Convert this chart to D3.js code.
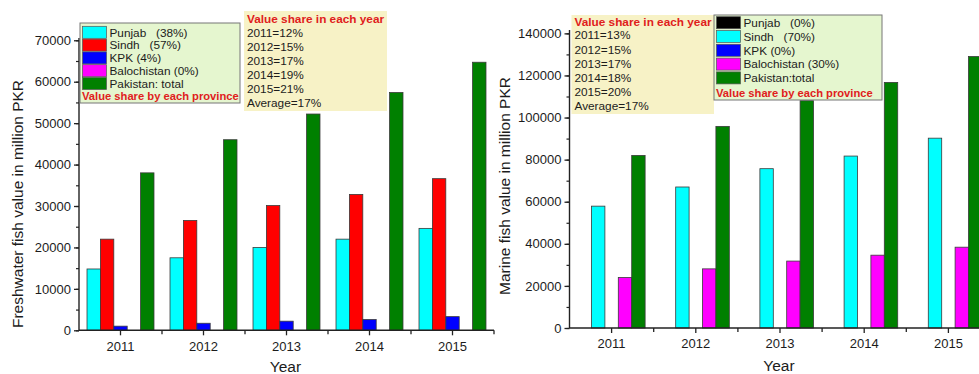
<!DOCTYPE html>
<html>
<head>
<meta charset="utf-8">
<script src="https://cdn.jsdelivr.net/npm/d3@7"></script>
<style>
  html, body { margin: 0; padding: 0; background: #fff; }
  svg { display: block; font-family: "Liberation Sans", Arial, sans-serif; }
  text { white-space: pre; }
</style>
</head>
<body>
<svg id="chart" width="979" height="374"></svg>
<script>
// Years on the x axis
const years = ["2011", "2012", "2013", "2014", "2015"];

// Freshwater fish value (million PKR)
const freshPunjab      = [14800, 17500, 20000, 22000, 24600];
const freshSindh       = [22000, 26500, 30100, 32800, 36600];
const freshKPK         = [1000, 1700, 2200, 2600, 3300];
const freshBalochistan = [0, 0, 0, 0, 0];
const freshTotal       = [38000, 46000, 52200, 57400, 64700];

// Marine fish value (million PKR)
const marinePunjab      = [0, 0, 0, 0, 0];
const marineSindh       = [57900, 67000, 75700, 81700, 90200];
const marineKPK         = [0, 0, 0, 0, 0];
const marineBalochistan = [24000, 28100, 31800, 34600, 38400];
const marineTotal       = [82000, 95800, 108000, 116700, 129000];

// Legend labels
const freshLegend  = ["Punjab   (38%)", "Sindh   (57%)", "KPK (4%)", "Balochistan (0%)", "Pakistan: total"];
const marineLegend = ["Punjab   (0%)", "Sindh   (70%)", "KPK (0%)", "Balochistan (30%)", "Pakistan:total"];

// Yearly share notes
const freshShare  = ["2011=12%", "2012=15%", "2013=17%", "2014=19%", "2015=21%", "Average=17%"];
const marineShare = ["2011=13%", "2012=15%", "2013=17%", "2014=18%", "2015=20%", "Average=17%"];

// Tick values
const freshTicks  = [0, 10000, 20000, 30000, 40000, 50000, 60000, 70000];
const marineTicks = [0, 20000, 40000, 60000, 80000, 100000, 120000, 140000];

const svg = d3.select("#chart");
const TXT = "#1c1c1c";
const AX = "#222";

function panel(cfg) {
  const g = svg.append("g");
  const x = d3.scaleBand().domain(years).range(cfg.xRange)
    .paddingInner(cfg.pad).paddingOuter(cfg.pad / 2);
  const y = d3.scaleLinear().domain(cfg.yDomain).range(cfg.yRange);
  const keys = cfg.series.map((s, i) => i);
  const xs = d3.scaleBand().domain(keys).range([0, x.bandwidth()]);

  // bars
  cfg.series.forEach((s, si) => {
    g.selectAll(null).data(s.values).enter().append("rect")
      .attr("x", (d, i) => x(years[i]) + xs(si))
      .attr("y", d => y(d))
      .attr("width", xs.bandwidth())
      .attr("height", d => y(0) - y(d))
      .attr("fill", s.color)
      .attr("stroke", d => d > 0 ? "#3a3a3a" : "none")
      .attr("stroke-width", 0.8);
  });

  // y axis: minor ticks, then major ticks with labels
  const yMinor = d3.range(cfg.yTicks[0], cfg.yTicks[cfg.yTicks.length - 1] + 1, cfg.minorStep);
  g.append("g").attr("transform", `translate(${cfg.xRange[0]},0)`)
    .call(d3.axisLeft(y).tickValues(yMinor).tickSize(3).tickFormat(""))
    .call(a => a.select(".domain").remove())
    .call(a => a.selectAll("line").attr("stroke", AX).attr("stroke-width", 1.2));
  const ya = g.append("g").attr("transform", `translate(${cfg.xRange[0]},0)`)
    .call(d3.axisLeft(y).tickValues(cfg.yTicks).tickSize(5).tickPadding(3).tickFormat(d3.format("d")));
  ya.select(".domain").remove();
  ya.selectAll("line").attr("stroke", AX).attr("stroke-width", 1.3);
  ya.selectAll("text").attr("fill", TXT).style("font-size", "13px");
  g.append("line")
    .attr("x1", cfg.xRange[0]).attr("x2", cfg.xRange[0])
    .attr("y1", y(cfg.yDomain[1])).attr("y2", y(0))
    .attr("stroke", AX).attr("stroke-width", 1.4);

  // x axis: ticks at categories and at group boundaries
  const xa = g.append("g").attr("transform", `translate(0,${y(0)})`)
    .call(d3.axisBottom(x).tickSize(5).tickPadding(6));
  xa.select(".domain").remove();
  xa.selectAll("line").attr("stroke", AX).attr("stroke-width", 1.3);
  xa.selectAll("text").attr("fill", TXT).style("font-size", "13px");
  const bounds = d3.range(0, years.length + 1).map(i => cfg.xRange[0] + i * x.step());
  g.selectAll(null).data(bounds.slice(1)).enter().append("line")
    .attr("x1", d => d).attr("x2", d => d)
    .attr("y1", y(0)).attr("y2", y(0) + 4)
    .attr("stroke", AX).attr("stroke-width", 1.3);
  g.append("line")
    .attr("x1", cfg.xRange[0]).attr("x2", cfg.xRange[1])
    .attr("y1", y(0)).attr("y2", y(0))
    .attr("stroke", AX).attr("stroke-width", 1.4);

  // axis titles
  g.append("text").attr("x", d3.mean(cfg.xTitlePos)).attr("y", cfg.xTitleY)
    .attr("text-anchor", "middle").attr("fill", TXT).style("font-size", "15.5px").text("Year");
  g.append("text")
    .attr("transform", `translate(${cfg.yTitleX},${cfg.yTitleY}) rotate(-90)`)
    .attr("text-anchor", "middle").attr("fill", TXT).style("font-size", "15.5px")
    .text(cfg.yTitle);

  // yearly share note
  const nb = cfg.noteBox;
  g.append("rect").attr("x", nb.x).attr("y", nb.y).attr("width", nb.w).attr("height", nb.h)
    .attr("fill", "#f7f2c6");
  g.append("text").attr("x", nb.x + 3).attr("y", nb.y + nb.titleOff)
    .attr("fill", "#e0201c").style("font-size", "11.8px").style("font-weight", "bold")
    .text("Value share in each year");
  g.selectAll(null).data(cfg.share).enter().append("text")
    .attr("x", nb.x + 3).attr("y", (d, i) => nb.y + nb.lineOff + i * nb.step)
    .attr("fill", TXT).style("font-size", "11.8px").text(d => d);

  // legend
  const lb = cfg.legendBox;
  g.append("rect").attr("x", lb.x).attr("y", lb.y).attr("width", lb.w).attr("height", lb.h)
    .attr("fill", "#e5f6cf").attr("stroke", "#777").attr("stroke-width", 1);
  cfg.series.forEach((s, i) => {
    const ry = lb.y + lb.rowOff + i * lb.step;
    g.append("rect").attr("x", lb.x + 2.5).attr("y", ry).attr("width", 24).attr("height", 12)
      .attr("fill", s.color).attr("stroke", "#555").attr("stroke-width", 0.7);
    g.append("text").attr("x", lb.x + 29.5).attr("y", ry + 10.3)
      .attr("fill", TXT).style("font-size", "11.8px").text(cfg.legend[i]);
  });
  g.append("text").attr("x", lb.x + 2).attr("y", lb.y + lb.h - lb.noteOff)
    .attr("fill", "#e0201c").style("font-size", "11.2px").style("font-weight", "bold")
    .text("Value share by each province");
}

panel({
  xRange: [79, 494], pad: 0.193,
  yDomain: [0, 70550], yRange: [330.3, 38], yTicks: freshTicks, minorStep: 5000,
  series: [
    { values: freshPunjab, color: "#00ffff" },
    { values: freshSindh, color: "#ff0000" },
    { values: freshKPK, color: "#0000ff" },
    { values: freshBalochistan, color: "#ff00ff" },
    { values: freshTotal, color: "#008000" }
  ],
  legend: freshLegend, share: freshShare,
  legendBox: { x: 80, y: 23, w: 160, h: 80, rowOff: 3.3, step: 12.8, noteOff: 2.6 },
  noteBox: { x: 244, y: 11, w: 143, h: 100, titleOff: 12.3, lineOff: 26.3, step: 14 },
  xTitlePos: [78, 493], xTitleY: 372,
  yTitle: "Freshwater fish value in million PKR", yTitleX: 23, yTitleY: 204
});

panel({
  xRange: [569.5, 990.5], pad: 0.204,
  yDomain: [0, 141600], yRange: [328, 30], yTicks: marineTicks, minorStep: 10000,
  series: [
    { values: marinePunjab, color: "#000000" },
    { values: marineSindh, color: "#00ffff" },
    { values: marineKPK, color: "#0000ff" },
    { values: marineBalochistan, color: "#ff00ff" },
    { values: marineTotal, color: "#008000" }
  ],
  legend: marineLegend, share: marineShare,
  legendBox: { x: 714, y: 15, w: 168, h: 85, rowOff: 1.7, step: 13.8, noteOff: 3.3 },
  noteBox: { x: 571.5, y: 15, w: 142.5, h: 99, titleOff: 11, lineOff: 24.3, step: 14.2 },
  xTitlePos: [568, 990], xTitleY: 371,
  yTitle: "Marine fish value in million PKR", yTitleX: 510, yTitleY: 186
});
</script>
</body>
</html>
